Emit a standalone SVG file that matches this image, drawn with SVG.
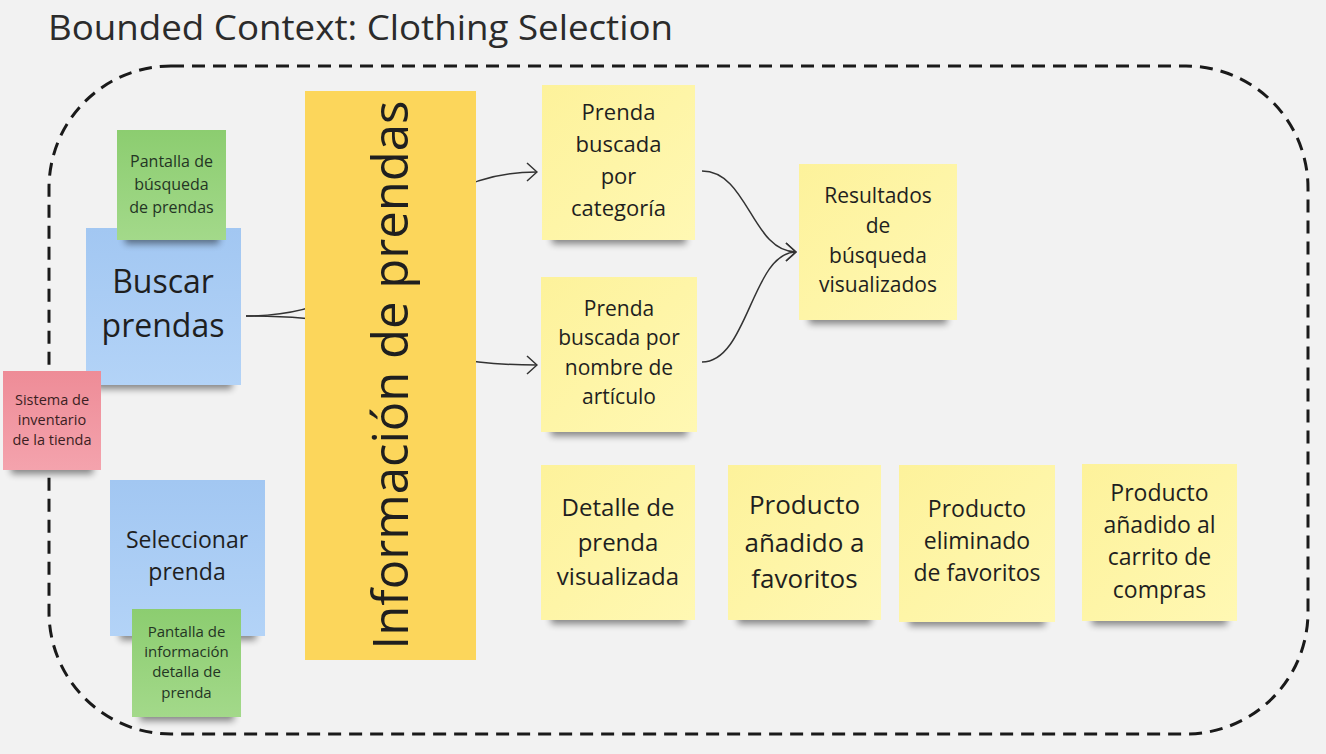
<svg xmlns="http://www.w3.org/2000/svg" width="1326" height="754" viewBox="0 0 1326 754">
  <style>
    text { font-family: "Open Sans", "Noto Sans", "Liberation Sans", sans-serif; fill: #1f1f1f; text-anchor: middle; }
    .title { text-anchor: start; font-size: 35px; fill: #2b2b2b; }
    .conn { fill: none; stroke: #333333; stroke-width: 1.5; }
    .shadow { fill: #000000; opacity: 0.45; filter: url(#blur); }
    .green text { fill: #243524; }
    .red text { fill: #3b1e22; }
  </style>
  <defs>
    <filter id="blur" x="-20%" y="-100%" width="140%" height="300%">
      <feGaussianBlur stdDeviation="3.5"/>
    </filter>
    <linearGradient id="gYellow" x1="0" y1="0" x2="1" y2="1">
      <stop offset="0" stop-color="#fdf29b"/>
      <stop offset="1" stop-color="#fff8b3"/>
    </linearGradient>
    <linearGradient id="gGreen" x1="0" y1="0" x2="0" y2="1">
      <stop offset="0" stop-color="#8ccd70"/>
      <stop offset="1" stop-color="#a3d98a"/>
    </linearGradient>
    <linearGradient id="gBlue" x1="0" y1="0" x2="0" y2="1">
      <stop offset="0" stop-color="#a2c7f2"/>
      <stop offset="1" stop-color="#b3d3f7"/>
    </linearGradient>
    <linearGradient id="gRed" x1="0" y1="0" x2="0" y2="1">
      <stop offset="0" stop-color="#ee8c97"/>
      <stop offset="1" stop-color="#f4a3ad"/>
    </linearGradient>
    <marker id="arrow" viewBox="0 0 12 20" refX="11" refY="10" markerWidth="12" markerHeight="20" markerUnits="userSpaceOnUse" orient="auto">
      <path d="M1,1 L11,10 L1,19" fill="none" stroke="#333333" stroke-width="1.5"/>
    </marker>
  </defs>

  <rect x="0" y="0" width="1326" height="754" fill="#f2f2f2"/>

  <text class="title" x="48" y="40" textLength="625" lengthAdjust="spacingAndGlyphs">Bounded Context: Clothing Selection</text>

  <rect id="boundary" x="49" y="66" width="1259" height="668" rx="122" ry="122" fill="none" stroke="#1a1a1a" stroke-width="3" stroke-dasharray="13 8"/>

  <g id="node-buscar" class="blue">
    <rect class="shadow" x="96" y="375" width="136" height="14"/>
    <rect x="86" y="228" width="155" height="157" fill="url(#gBlue)"/>
    <text x="163" y="293" font-size="32">Buscar</text>
    <text x="163" y="337" font-size="32">prendas</text>
  </g>

  <g id="node-pantalla-busqueda" class="green">
    <rect class="shadow" x="125" y="230" width="94" height="14"/>
    <rect x="117" y="130" width="109" height="110" fill="url(#gGreen)"/>
    <text x="171.5" y="167" font-size="16">Pantalla de</text>
    <text x="171.5" y="190" font-size="16">búsqueda</text>
    <text x="171.5" y="213" font-size="16">de prendas</text>
  </g>

  <g id="node-inventario" class="red">
    <rect class="shadow" x="11" y="460" width="82" height="14"/>
    <rect x="3" y="371" width="98" height="99" fill="url(#gRed)"/>
    <text x="52" y="405" font-size="14.5">Sistema de</text>
    <text x="52" y="425" font-size="14.5">inventario</text>
    <text x="52" y="445" font-size="14.5">de la tienda</text>
  </g>

  <g id="node-seleccionar" class="blue">
    <rect class="shadow" x="120" y="626" width="136" height="14"/>
    <rect x="110" y="480" width="155" height="156" fill="url(#gBlue)"/>
    <text x="187" y="548" font-size="23">Seleccionar</text>
    <text x="187" y="580" font-size="23">prenda</text>
  </g>

  <g id="node-pantalla-info" class="green">
    <rect class="shadow" x="140" y="707" width="94" height="14"/>
    <rect x="132" y="609" width="109" height="108" fill="url(#gGreen)"/>
    <text x="186.5" y="637" font-size="15">Pantalla de</text>
    <text x="186.5" y="657" font-size="15">información</text>
    <text x="186.5" y="677" font-size="15">detalla de</text>
    <text x="186.5" y="698" font-size="15">prenda</text>
  </g>

  <g id="connectors">
    <path class="conn" d="M246,316 C420,316 380,172 537,172" marker-end="url(#arrow)"/>
    <path class="conn" d="M246,316 C420,316 380,365 537,365" marker-end="url(#arrow)"/>
    <path class="conn" d="M702,171 C748,171 752,252 796,252" marker-end="url(#arrow)"/>
    <path class="conn" d="M702,362 C748,362 752,252 796,252" marker-end="url(#arrow)"/>
  </g>

  <g id="node-informacion">
    <rect x="305" y="91" width="171" height="569" fill="#fcd65b"/>
    <text x="0" y="0" font-size="49" transform="translate(408 375) rotate(-90)">Información de prendas</text>
  </g>

  <g id="node-categoria" class="yellow">
    <rect class="shadow" x="552" y="230" width="134" height="14"/>
    <rect x="542" y="85" width="153" height="155" fill="url(#gYellow)"/>
    <text x="618.5" y="120" font-size="22">Prenda</text>
    <text x="618.5" y="152" font-size="22">buscada</text>
    <text x="618.5" y="184" font-size="22">por</text>
    <text x="618.5" y="216" font-size="22">categoría</text>
  </g>

  <g id="node-nombre" class="yellow">
    <rect class="shadow" x="551" y="422" width="136" height="14"/>
    <rect x="541" y="277" width="156" height="155" fill="url(#gYellow)"/>
    <text x="619" y="316" font-size="21">Prenda</text>
    <text x="619" y="345" font-size="21">buscada por</text>
    <text x="619" y="375" font-size="21">nombre de</text>
    <text x="619" y="404" font-size="21">artículo</text>
  </g>

  <g id="node-resultados" class="yellow">
    <rect class="shadow" x="809" y="310" width="138" height="14"/>
    <rect x="799" y="164" width="158" height="156" fill="url(#gYellow)"/>
    <text x="878" y="203" font-size="21">Resultados</text>
    <text x="878" y="233" font-size="21">de</text>
    <text x="878" y="263" font-size="21">búsqueda</text>
    <text x="878" y="292" font-size="21">visualizados</text>
  </g>

  <g id="node-detalle" class="yellow">
    <rect class="shadow" x="551" y="610" width="134" height="14"/>
    <rect x="541" y="465" width="154" height="155" fill="url(#gYellow)"/>
    <text x="618" y="516" font-size="24">Detalle de</text>
    <text x="618" y="551" font-size="24">prenda</text>
    <text x="618" y="585" font-size="24">visualizada</text>
  </g>

  <g id="node-anadido-favoritos" class="yellow">
    <rect class="shadow" x="738" y="610" width="133" height="14"/>
    <rect x="728" y="465" width="153" height="155" fill="url(#gYellow)"/>
    <text x="804.5" y="514" font-size="26">Producto</text>
    <text x="804.5" y="552" font-size="26">añadido a</text>
    <text x="804.5" y="588" font-size="26">favoritos</text>
  </g>

  <g id="node-eliminado-favoritos" class="yellow">
    <rect class="shadow" x="909" y="612" width="136" height="14"/>
    <rect x="899" y="465" width="156" height="157" fill="url(#gYellow)"/>
    <text x="977" y="517" font-size="23">Producto</text>
    <text x="977" y="549" font-size="23">eliminado</text>
    <text x="977" y="581" font-size="23">de favoritos</text>
  </g>

  <g id="node-carrito" class="yellow">
    <rect class="shadow" x="1092" y="611" width="135" height="14"/>
    <rect x="1082" y="464" width="155" height="157" fill="url(#gYellow)"/>
    <text x="1159.5" y="501" font-size="23">Producto</text>
    <text x="1159.5" y="533" font-size="23">añadido al</text>
    <text x="1159.5" y="565" font-size="23">carrito de</text>
    <text x="1159.5" y="598" font-size="23">compras</text>
  </g>
</svg>
